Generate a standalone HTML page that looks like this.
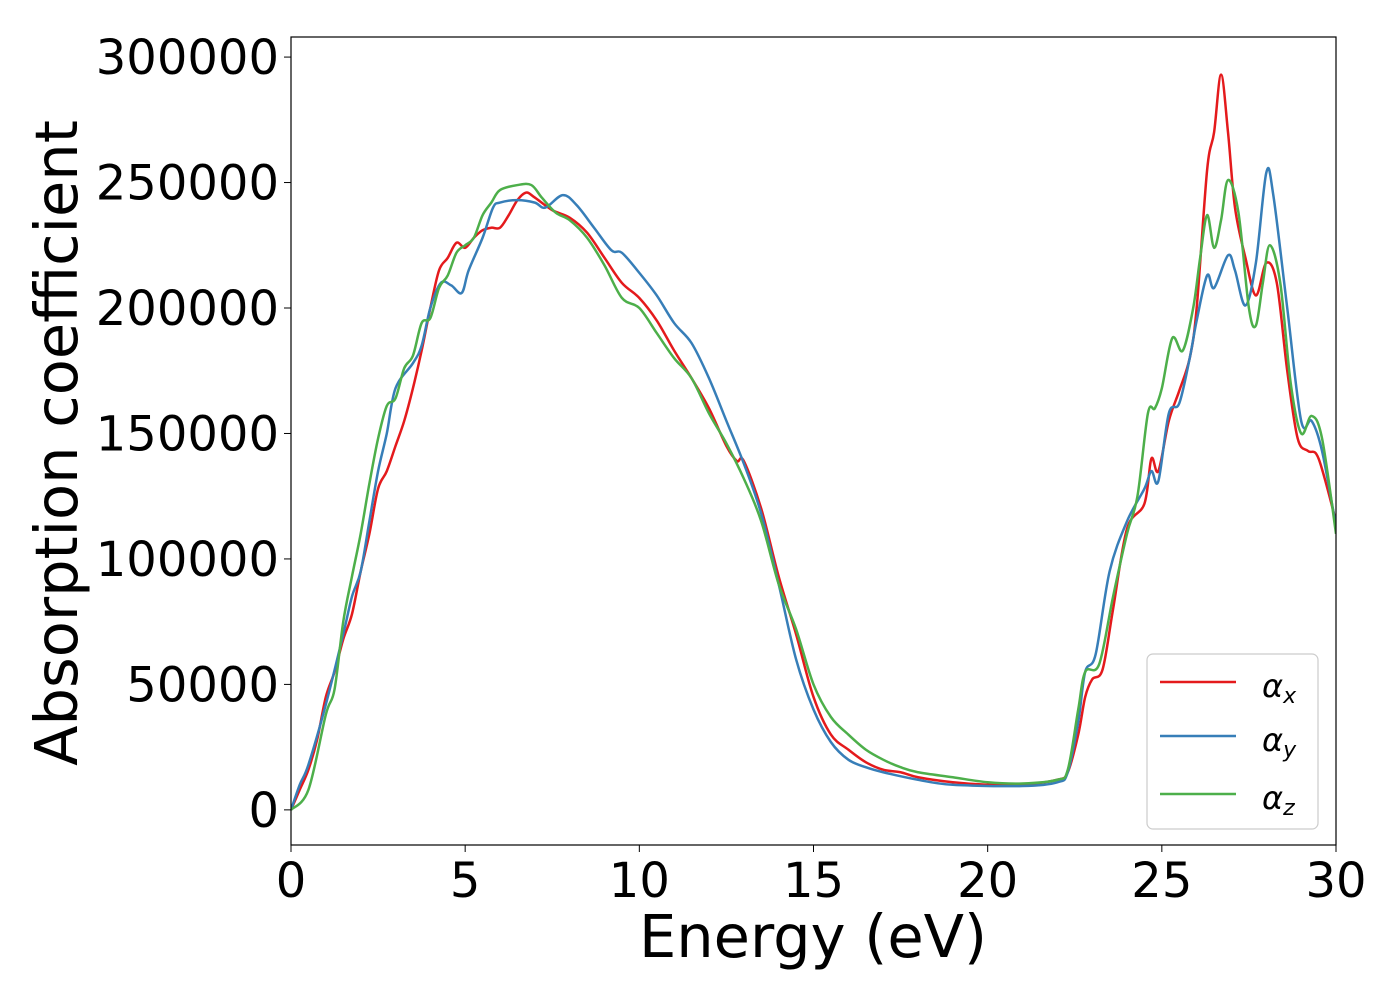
<!DOCTYPE html>
<html><head><meta charset="utf-8"><style>
body{margin:0;background:#fff;}
svg text{font-family:"DejaVu Sans","Liberation Sans",sans-serif;fill:#000;}
</style></head><body>
<svg id="chart" width="1400" height="1000" xmlns="http://www.w3.org/2000/svg">
<g id="series"></g>
<rect x="291" y="37" width="1045" height="808" fill="none" stroke="#000" stroke-width="1.2"/>
<g id="axes"></g>
<text x="813" y="957" font-size="59" text-anchor="middle">Energy (eV)</text>
<text transform="translate(77,443) rotate(-90)" font-size="59" text-anchor="middle">Absorption coefficient</text>
<g>
<rect x="1147" y="654" width="171" height="175" rx="6" fill="#fff" fill-opacity="0.8" stroke="#ccc" stroke-width="1.2"/>
<line x1="1160" y1="682" x2="1236" y2="682" stroke="#e41a1c" stroke-width="2.5"/>
<line x1="1160" y1="736" x2="1236" y2="736" stroke="#377eb8" stroke-width="2.5"/>
<line x1="1160" y1="794" x2="1236" y2="794" stroke="#4daf4a" stroke-width="2.5"/>
<text x="1262" y="697" font-size="32" font-style="italic">α<tspan font-size="22" dy="6">x</tspan></text>
<text x="1262" y="751" font-size="32" font-style="italic">α<tspan font-size="22" dy="6">y</tspan></text>
<text x="1262" y="809" font-size="32" font-style="italic">α<tspan font-size="22" dy="6">z</tspan></text>
</g>
</svg>
<script>
const xTicks=[0,5,10,15,20,25,30];
const yTicks=[0,50000,100000,150000,200000,250000,300000];
const xE=[0,0.25,0.5,0.75,1,1.25,1.5,1.75,2,2.25,2.5,2.75,3,3.25,3.5,3.75,4,4.25,4.5,4.75,5,5.25,5.5,5.75,6,6.25,6.5,6.75,7,7.5,8,8.5,9,9.5,10,10.5,11,11.5,12,12.5,12.8,13,13.5,14,14.5,15,15.5,16,16.5,17,17.5,18,19,20,21,22,22.3,22.6,22.8,23,23.3,23.6,24,24.5,24.7,24.9,25.2,25.5,25.8,26,26.3,26.5,26.7,26.9,27.1,27.4,27.7,28,28.3,28.6,28.9,29.2,29.5,30];
const xV=[0,8,16,28,45,55,68,78,95,110,128,135,145,155,168,183,200,215,220,226,224,228,231,232,232,237,243,246,244,239,236,230,220,210,204,195,183,172,160,145,139,139,120,93,70,45,30,24,19,16,15,13,11,10,10,12,15,30,45,52,56,80,112,122,140,135,155,167,180,200,255,270,293,270,240,220,205,218,210,175,148,143,140,115];
const yE=[0,0.25,0.5,1,1.5,1.75,2,2.25,2.5,2.75,3,3.5,3.75,4,4.3,4.6,4.9,5.1,5.5,5.8,6,6.5,7,7.3,7.8,8.2,8.7,9.2,9.5,10,10.5,11,11.5,12,12.5,13,13.5,14,14.5,15,15.5,16,16.5,17,18,19,21,22,22.3,22.6,22.8,23.1,23.5,24,24.5,24.7,24.9,25.2,25.5,25.8,26,26.3,26.5,26.9,27.1,27.4,27.7,28,28.2,28.6,29,29.3,29.6,30];
const yV=[0,10,18,42,70,85,95,115,135,150,168,178,185,200,210,209,206,215,228,240,242,243,242,240,245,241,232,223,222,214,205,194,186,172,155,138,118,90,60,40,27,20,17,15,12,10,9.5,11,15,35,55,62,95,115,128,135,131,158,162,180,195,213,208,221,215,201,218,254,245,200,155,155,143,113];
const zE=[0,0.5,1,1.25,1.5,1.75,2,2.25,2.5,2.75,3,3.25,3.5,3.75,4,4.25,4.5,4.75,5,5.25,5.5,5.75,6,6.5,6.9,7.2,7.6,8,8.5,9,9.5,10,10.5,11,11.5,12,12.5,13,13.5,14,14.5,15,15.5,16,16.5,17,17.5,18,19,20,21,22,22.3,22.6,22.8,23.2,23.6,24,24.3,24.6,24.8,25,25.3,25.6,25.9,26.1,26.3,26.5,26.7,26.9,27.2,27.5,27.7,27.9,28.1,28.4,28.7,29,29.3,29.6,30];
const zV=[0,8,38,48,75,93,110,130,148,161,164,176,181,194,196,208,213,222,225,228,237,242,247,249,249,244,238,235,228,217,204,200,190,180,172,158,146,132,115,90,72,50,37,30,24,20,17,15,13,11,10.5,12,16,40,55,58,85,110,125,158,160,168,188,183,200,220,237,224,235,251,238,200,193,210,225,210,170,150,157,148,110];
const L=291,R=1336,T=37,B=845,xmin=0,xmax=30,ymin=-14000,ymax=308000;
const sx=v=>L+(v-xmin)/(xmax-xmin)*(R-L);
const sy=v=>B-(v-ymin)/(ymax-ymin)*(B-T);
const NS="http://www.w3.org/2000/svg";
const ax=document.getElementById('axes');
xTicks.forEach(t=>{
 const l=document.createElementNS(NS,'line');
 l.setAttribute('x1',sx(t));l.setAttribute('x2',sx(t));l.setAttribute('y1',B);l.setAttribute('y2',B+7);l.setAttribute('stroke','#000');
 
 
 ax.appendChild(l);
 const s=document.createElementNS(NS,'text');
 s.setAttribute('x',sx(t));s.setAttribute('y',B+52);s.setAttribute('font-size','48');s.setAttribute('text-anchor','middle');s.textContent=t;
 
 
 ax.appendChild(s);
});
yTicks.forEach(t=>{
 const l=document.createElementNS(NS,'line');
 l.setAttribute('x1',L-7);l.setAttribute('x2',L);l.setAttribute('y1',sy(t));l.setAttribute('y2',sy(t));l.setAttribute('stroke','#000');
 
 
 ax.appendChild(l);
 const s=document.createElementNS(NS,'text');
 s.setAttribute('x',L-12);s.setAttribute('y',sy(t)+17);s.setAttribute('font-size','48');s.setAttribute('text-anchor','end');s.textContent=t;
 
 
 ax.appendChild(s);
});
const g=document.getElementById('series');
function draw(E,V,color,name){
 const pts=E.map((e,i)=>[sx(e),sy(V[i]*1000)]);
 let d='M'+pts[0][0]+','+pts[0][1];
 for(let i=0;i<pts.length-1;i++){
  const p0=pts[Math.max(0,i-1)],p1=pts[i],p2=pts[i+1],p3=pts[Math.min(pts.length-1,i+2)];
  const c1=[p1[0]+(p2[0]-p0[0])/6,p1[1]+(p2[1]-p0[1])/6];
  const c2=[p2[0]-(p3[0]-p1[0])/6,p2[1]-(p3[1]-p1[1])/6];
  d+=' C'+c1+' '+c2+' '+p2;
 }
 const p=document.createElementNS(NS,'path');
 p.setAttribute('d',d);p.setAttribute('fill','none');p.setAttribute('stroke',color);p.setAttribute('stroke-width','2.5');
 
 
 g.appendChild(p);
}
draw(xE,xV,'#e41a1c','alpha-x-line');
draw(yE,yV,'#377eb8','alpha-y-line');
draw(zE,zV,'#4daf4a','alpha-z-line');
const cp=document.createElementNS(NS,'clipPath');cp.setAttribute('id','c');
const cr=document.createElementNS(NS,'rect');cr.setAttribute('x',L);cr.setAttribute('y',T);cr.setAttribute('width',R-L);cr.setAttribute('height',B-T);
cp.appendChild(cr);document.getElementById('chart').appendChild(cp);
g.setAttribute('clip-path','url(#c)');
</script>
</body></html>
